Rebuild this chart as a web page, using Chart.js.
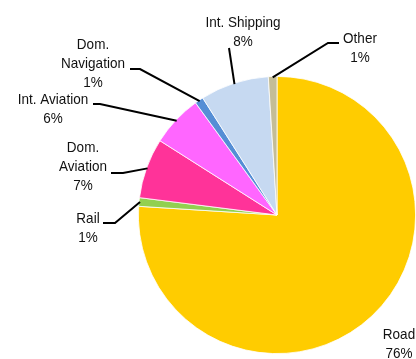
<!DOCTYPE html>
<html>
<head>
<meta charset="utf-8">
<script src="https://cdn.jsdelivr.net/npm/chart.js@4.4.1/dist/chart.umd.min.js"></script>
<style>
  html, body { margin: 0; padding: 0; background: #fff; }
  #pie-container { width: 416px; height: 359px; }
</style>
</head>
<body>
<div id="pie-container">
  <canvas id="myChart" width="416" height="359"></canvas>
</div>
<script>
'use strict';

/// GLOBAL VARIABLES
let sectorNames = ['Road', 'Rail', 'Dom. Aviation', 'Int. Aviation', 'Dom. Navigation', 'Int. Shipping', 'Other'];
let sectorShares = [76, 1, 7, 6, 1, 8, 1];
let sectorColors = ['#ffcc00', '#92d050', '#ff3399', '#ff66ff', '#558ed5', '#c6d9f1', '#c4bd97'];

// label text split onto lines
let labelLines = [
  ['Road'],
  ['Rail'],
  ['Dom.', 'Aviation'],
  ['Int. Aviation'],
  ['Dom.', 'Navigation'],
  ['Int. Shipping'],
  ['Other']
];

// where each label sits (center x, first line y) and the bend points of its leader
let labelSpots = [
  { x: 399, y: 335, leader: null },
  { x: 88, y: 219, leader: [[103, 223], [115, 223]] },
  { x: 83, y: 148, leader: [[111, 173], [123, 173]] },
  { x: 53, y: 100, leader: [[93, 104], [100, 104]] },
  { x: 93, y: 45, leader: [[130, 69], [140, 69]] },
  { x: 243, y: 23, leader: [[229, 48]] },
  { x: 360, y: 39, leader: [[339, 43], [328, 43]] }
];

let canvasElem = document.getElementById('myChart').getContext('2d');

// PLUGIN - text labels with leader lines
let pieLabels = {
  id: 'pieLabels',
  afterDatasetsDraw(chart) {
    let ctx = chart.ctx;
    let arcs = chart.getDatasetMeta(0).data;
    let lineGap = 19;

    ctx.save();
    for (let i = 0; i < arcs.length; i++) {
      let arc = arcs[i].getProps(['x', 'y', 'startAngle', 'endAngle', 'outerRadius'], true);
      let spot = labelSpots[i];

      // leader line ends on the rim at the middle of the slice
      if (spot.leader) {
        let mid = (arc.startAngle + arc.endAngle) / 2;
        let rimX = arc.x + Math.cos(mid) * (arc.outerRadius - 1);
        let rimY = arc.y + Math.sin(mid) * (arc.outerRadius - 1);
        ctx.beginPath();
        ctx.moveTo(spot.leader[0][0], spot.leader[0][1]);
        for (let p = 1; p < spot.leader.length; p++) {
          ctx.lineTo(spot.leader[p][0], spot.leader[p][1]);
        }
        ctx.lineTo(rimX, rimY);
        ctx.strokeStyle = '#000';
        ctx.lineWidth = 2;
        ctx.stroke();
      }

      let lines = labelLines[i].concat([sectorShares[i] + '%']);
      ctx.fillStyle = '#111';
      ctx.font = '15px "Liberation Sans", Arial, sans-serif';
      ctx.textAlign = 'center';
      ctx.textBaseline = 'middle';
      for (let l = 0; l < lines.length; l++) {
        ctx.save();
        ctx.translate(spot.x, spot.y + l * lineGap);
        ctx.scale(0.9, 1);
        ctx.fillText(lines[l], 0, 0);
        ctx.restore();
      }
    }
    ctx.restore();
  }
};

// chart config
let myChartObj = {
  type: 'pie',
  data: {
    labels: sectorNames,
    datasets: [
      {
        data: sectorShares,
        backgroundColor: sectorColors,
        borderColor: '#ffffff',
        borderWidth: 0.8,
      },
    ],
  },
  options: {
    responsive: false,
    animation: false,
    layout: {
      padding: { left: 138, right: 0, top: 75, bottom: 4 },
    },
    plugins: {
      legend: { display: false },
      tooltip: { enabled: false },
    },
  },
  plugins: [pieLabels],
};

new Chart(canvasElem, myChartObj);
</script>
</body>
</html>
